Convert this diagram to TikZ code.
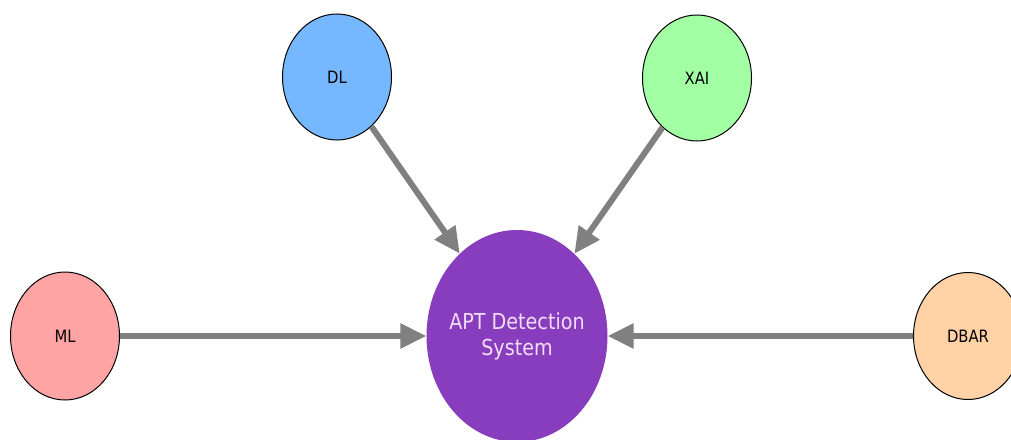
\documentclass[tikz,border=0pt]{standalone}
\usepackage{fontspec}
\setmainfont{DejaVu Sans}[FakeStretch=0.87]
\usetikzlibrary{shapes.geometric,arrows.meta}
\definecolor{dlblue}{RGB}{118,184,255}
\definecolor{xaigreen}{RGB}{163,255,163}
\definecolor{mlred}{RGB}{255,164,164}
\definecolor{dbarorange}{RGB}{255,210,165}
\definecolor{aptpurple}{RGB}{136,60,190}
\definecolor{apttext}{RGB}{242,222,246}
\definecolor{arrowgray}{RGB}{128,128,128}
\tikzset{
  small/.style={ellipse, draw=black, line width=1pt, inner sep=0pt,
    minimum width=109pt, minimum height=126pt,
    font=\fontsize{17}{20}\selectfont},
  big/.style={ellipse, fill=aptpurple, inner sep=0pt,
    minimum width=181pt, minimum height=212pt},
  bigtext/.style={align=center, inner sep=0pt,
    text=apttext, font=\fontsize{22}{26}\selectfont},
  conn/.style={draw=arrowgray, line width=6pt,
    -{Triangle[length=26pt,width=24pt]}}
}
\begin{document}
\begin{tikzpicture}[x=1pt,y=-1pt]
\useasboundingbox (0,0) rectangle (1011,439);
\node[small, fill=dlblue] (dl) at (337,77) {DL};
\node[small, fill=xaigreen] (xai) at (697,78) {XAI};
\node[small, fill=mlred, minimum height=128pt] (ml) at (65,336) {ML};
\node[small, fill=dbarorange, minimum height=127pt] (dbar) at (968,336) {DBAR};
\node[big] (apt) at (517,336) {};
\node[bigtext] (apttxt) at (apt.center) {APT Detection\\System};
\draw[conn] (dl) -- (apt);
\draw[conn] (xai) -- (apt);
\draw[conn] (ml) -- (apt);
\draw[conn] (dbar) -- (apt);
\end{tikzpicture}
\end{document}
